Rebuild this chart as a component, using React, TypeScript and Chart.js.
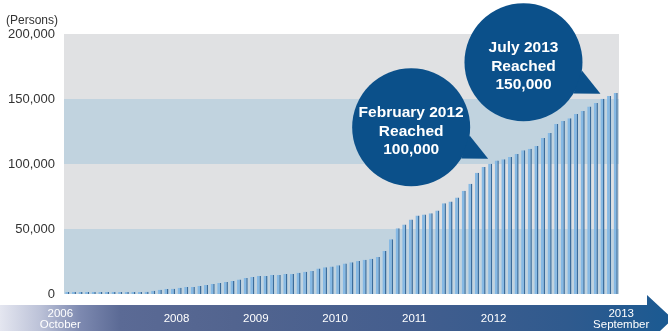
import React, { useEffect, useRef } from "react";
import { Chart, registerables } from "chart.js";
Chart.register(...registerables);

const months = [
  "2006-10", "2006-11", "2006-12",
  "2007-01", "2007-02", "2007-03", "2007-04", "2007-05", "2007-06", "2007-07", "2007-08", "2007-09", "2007-10", "2007-11", "2007-12",
  "2008-01", "2008-02", "2008-03", "2008-04", "2008-05", "2008-06", "2008-07", "2008-08", "2008-09", "2008-10", "2008-11", "2008-12",
  "2009-01", "2009-02", "2009-03", "2009-04", "2009-05", "2009-06", "2009-07", "2009-08", "2009-09", "2009-10", "2009-11", "2009-12",
  "2010-01", "2010-02", "2010-03", "2010-04", "2010-05", "2010-06", "2010-07", "2010-08", "2010-09", "2010-10", "2010-11", "2010-12",
  "2011-01", "2011-02", "2011-03", "2011-04", "2011-05", "2011-06", "2011-07", "2011-08", "2011-09", "2011-10", "2011-11", "2011-12",
  "2012-01", "2012-02", "2012-03", "2012-04", "2012-05", "2012-06", "2012-07", "2012-08", "2012-09", "2012-10", "2012-11", "2012-12",
  "2013-01", "2013-02", "2013-03", "2013-04", "2013-05", "2013-06", "2013-07", "2013-08", "2013-09",
];

const members = [
  100, 150, 200,
  250, 300, 350, 400, 450, 500, 600, 700, 1000, 1800, 2500, 3300,
  3800, 4000, 4800, 5400, 5400, 6100, 6900, 7700, 8400, 9200, 10000, 11200,
  12300, 13000, 13800, 13800, 14600, 14600, 15300, 15300, 16300, 17100, 17600, 19700,
  20500, 21200, 22200, 23500, 24500, 25300, 26300, 27100, 28400, 33000, 42100, 50500,
  53500, 57300, 60300, 61200, 62100, 64300, 69800, 71200, 74200, 79500, 84800, 93200,
  97600, 100200, 102700, 103700, 105400, 107700, 110500, 111800, 113900, 120000, 123900, 130800,
  133100, 135100, 138500, 140800, 144300, 146900, 150200, 152300, 154600,
];

const yTicks = [0, 50000, 100000, 150000, 200000];
const yUnit = "(Persons)";

const xTickMonths = ["2006-10", "2008-02", "2009-02", "2010-02", "2011-02", "2012-02", "2013-09"];
const xTickTexts = [["2006", "October"], ["2008"], ["2009"], ["2010"], ["2011"], ["2012"], ["2013", "September"]];

const calloutMonths = ["2012-02", "2013-07"];
const calloutTexts = [
  ["February 2012", "Reached", "100,000"],
  ["July 2013", "Reached", "150,000"],
];

const FONT = "'Liberation Sans', Arial, Helvetica, sans-serif";

const decor = {
  id: "decor",
  beforeDraw(chart: any) {
    const { ctx, width, scales, chartArea } = chart;
    const x = scales.x;
    const y = scales.y;
    ctx.save();
    ctx.fillStyle = "#ffffff";
    ctx.fillRect(0, 0, width, chart.height);

    // background bands
    for (let i = 0; i < yTicks.length - 1; i++) {
      const top = y.getPixelForValue(yTicks[i + 1]);
      const bot = y.getPixelForValue(yTicks[i]);
      ctx.fillStyle = i % 2 === 0 ? "#c1d3df" : "#e0e1e3";
      ctx.fillRect(chartArea.left, top, chartArea.right - chartArea.left, bot - top);
    }

    // arrow band
    const bandTop = chartArea.bottom + 11;
    const bandBot = bandTop + 28;
    const headX = width - 21;
    const g = ctx.createLinearGradient(0, 0, width, 0);
    g.addColorStop(0, "#e4e6f0");
    g.addColorStop(0.06, "#bcc2d8");
    g.addColorStop(0.12, "#7d89b0");
    g.addColorStop(0.18, "#5b6a95");
    g.addColorStop(0.35, "#52648f");
    g.addColorStop(0.6, "#445e8e");
    g.addColorStop(0.85, "#2f5a8e");
    g.addColorStop(1, "#1b5a92");
    ctx.fillStyle = g;
    ctx.beginPath();
    ctx.moveTo(0, bandTop);
    ctx.lineTo(headX, bandTop);
    ctx.lineTo(headX, bandTop - 10);
    ctx.lineTo(headX + 26, (bandTop + bandBot) / 2);
    ctx.lineTo(headX, bandBot + 10);
    ctx.lineTo(headX, bandBot);
    ctx.lineTo(0, bandBot);
    ctx.closePath();
    ctx.fill();

    // x labels
    ctx.fillStyle = "#ffffff";
    ctx.font = `11.5px ${FONT}`;
    ctx.textAlign = "center";
    ctx.textBaseline = "middle";
    const mid = (bandTop + bandBot) / 2 - 0.5;
    xTickMonths.forEach((m, k) => {
      const idx = months.indexOf(m);
      let px = x.getPixelForValue(idx);
      const lines = xTickTexts[k];
      if (k === 0) px -= 7;
      else if (k === xTickMonths.length - 1) px += 5.5;
      else px += 3.5;
      if (lines.length === 1) {
        ctx.fillText(lines[0], px, mid);
      } else {
        ctx.fillText(lines[0], px, mid - 4.5);
        ctx.fillText(lines[1], px, mid + 6);
      }
    });

    // unit label
    ctx.fillStyle = "#333333";
    ctx.font = `12px ${FONT}`;
    ctx.textAlign = "left";
    ctx.textBaseline = "middle";
    ctx.fillText(yUnit, 6, 21);
    ctx.restore();
  },
  afterDatasetsDraw(chart: any) {
    const { ctx, scales } = chart;
    const x = scales.x;
    const y = scales.y;
    ctx.save();
    calloutMonths.forEach((m, k) => {
      const idx = months.indexOf(m);
      const bx = x.getPixelForValue(idx);
      const by = y.getPixelForValue(members[idx]);
      const tipX = bx - 2;
      const tipY = by - 5;
      const cx = tipX - 77;
      const cy = tipY - 31.5;
      const r = 59;
      ctx.fillStyle = "#0b508a";
      ctx.beginPath();
      ctx.arc(cx, cy, r, 0, Math.PI * 2);
      ctx.fill();
      const a1 = (8 * Math.PI) / 180;
      const a2 = (32 * Math.PI) / 180;
      ctx.beginPath();
      ctx.moveTo(cx + r * Math.cos(a1), cy + r * Math.sin(a1));
      ctx.lineTo(tipX, tipY);
      ctx.lineTo(cx + r * Math.cos(a2), cy + r * Math.sin(a2));
      ctx.closePath();
      ctx.fill();
      ctx.fillStyle = "#ffffff";
      ctx.font = `bold 15.5px ${FONT}`;
      ctx.textAlign = "center";
      ctx.textBaseline = "middle";
      const lines = calloutTexts[k];
      lines.forEach((t, j) => {
        ctx.fillText(t, cx, cy + 4 + (j - 1) * 18.6);
      });
    });
    ctx.restore();
  },
};

export default function App() {
  const ref = useRef<HTMLCanvasElement>(null);
  useEffect(() => {
    document.body.style.margin = "0";
    const chart = new Chart(ref.current as HTMLCanvasElement, {
      type: "bar",
      data: {
        labels: months,
        datasets: [
          {
            data: members,
            backgroundColor: "#86b9e4",
            borderColor: "#3b6c9b",
            borderWidth: { left: 0, right: 1.5, top: 0, bottom: 0 },
            borderSkipped: false,
            categoryPercentage: 1,
            barPercentage: 0.62,
            minBarLength: 2,
          } as any,
        ],
      },
      options: {
        animation: false,
        responsive: false,
        devicePixelRatio: 1,
        layout: { padding: { left: 0, right: 49, top: 34, bottom: 37 } },
        plugins: { legend: { display: false }, tooltip: { enabled: false } },
        scales: {
          x: { display: false, grid: { display: false } },
          y: {
            min: 0,
            max: 200000,
            afterFit: (s: any) => {
              s.width = 64;
            },
            afterBuildTicks: (s: any) => {
              s.ticks = yTicks.map((v) => ({ value: v }));
            },
            grid: { display: false, drawTicks: false },
            border: { display: false },
            ticks: {
              padding: 9,
              color: "#333333",
              font: { family: FONT, size: 13 },
              callback: (v: any) => Number(v).toLocaleString("en-US"),
            },
          },
        },
      },
      plugins: [decor],
    });
    return () => chart.destroy();
  }, []);
  return (
    <div style={{ width: 668, height: 331 }}>
      <canvas ref={ref} width={668} height={331} style={{ display: "block" }} />
    </div>
  );
}
